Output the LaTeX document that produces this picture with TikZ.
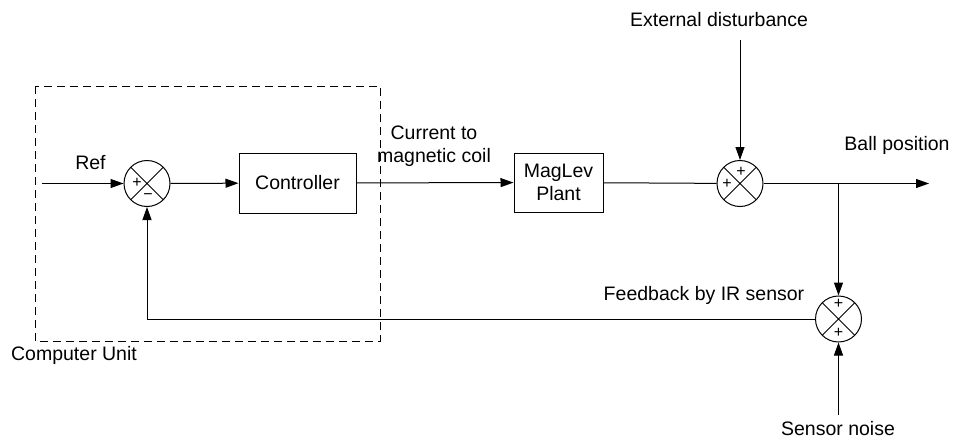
\documentclass[tikz,border=0pt]{standalone}
\usepackage{fontspec}
\setmainfont{Liberation Sans}
\usetikzlibrary{arrows.meta}

\begin{document}
\begin{tikzpicture}[x=1pt,y=-1pt,>={Triangle[length=13pt,width=9pt]},line width=1pt,
    every node/.style={font=\fontsize{19.5}{23}\selectfont},
    block/.style={draw,rectangle,minimum width=117pt,minimum height=60pt,inner sep=0pt},
    sumnode/.style={draw,circle,minimum size=46pt,inner sep=0pt,
      path picture={\draw (path picture bounding box.north west) -- (path picture bounding box.south east)
        (path picture bounding box.north east) -- (path picture bounding box.south west);}},
    sign/.style={font=\fontsize{16}{16}\selectfont,inner sep=0pt}]
    \useasboundingbox (0,0) rectangle (954,439);

    % blocks and summing points
    \node (ctrl) [block] at (297.5,183) {Controller};
    \node (plant) [block,minimum width=89pt,minimum height=59pt,align=center] at (558.5,182.5) {MagLev\\Plant};
    \node (sumref) [sumnode] at (147,183.5) {};
    \node (sumdist) [sumnode] at (740,183.5) {};
    \node (sumsens) [sumnode] at (838.5,319) {};

    % signs
    \node (sgnrefa) [sign] at (137,183) {+};
    \node (sgnrefb) [sign] at (148,197) {−};
    \node (sgndista) [sign] at (727,184) {+};
    \node (sgndistb) [sign] at (741,172) {+};
    \node (sgnsensa) [sign] at (838.5,304) {+};
    \node (sgnsensb) [sign] at (838.5,333) {+};

    % labels
    \node (reflbl) [anchor=base] at (90.5,169) {Ref};
    \node (culbl) [anchor=base] at (74,360) {Computer Unit};
    \node (currlbl) [align=center] at (434,146) {Current to\\magnetic coil};
    \node (distlbl) [anchor=base] at (719,27) {External disturbance};
    \node (balllbl) [anchor=base] at (897,150) {Ball position};
    \node (fblbl) [anchor=base] at (704,300) {Feedback by IR sensor};
    \node (noiselbl) [anchor=base] at (838,435) {Sensor noise};

    \coordinate (refin) at (42,183.5);
    \coordinate (distin) at (740,40);
    \coordinate (branch) at (838.5,183.5);
    \coordinate (ballout) at (929,183.5);
    \coordinate (noisein) at (838.5,415);

    % computer unit
    \draw[dash pattern=on 8pt off 5pt] (35,86) rectangle (380,341);

    \draw[->] (refin) -- (sumref);
    \draw[->] (sumref) -- (ctrl);
    \draw[->] (ctrl) -- (plant);
    \draw (plant) -- (sumdist);
    \draw[->] (distin) -- (sumdist);
    \draw[->] (sumdist) -- (ballout);
    \draw[->] (branch) -- (sumsens);
    \draw[->] (noisein) -- (sumsens);
    \draw[->] (sumsens) -| (sumref);
\end{tikzpicture}
\end{document}
